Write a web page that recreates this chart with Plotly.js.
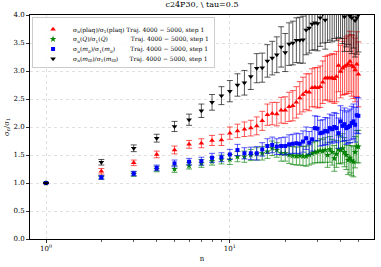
<!DOCTYPE html>
<html>
<head>
<meta charset="utf-8">
<script src="https://cdn.plot.ly/plotly-3.0.1.min.js"></script>
<style>
html,body{margin:0;padding:0;background:#fff;}
#chart{width:381px;height:267px;}
</style>
</head>
<body>
<div id="chart"></div>
<script>
const n = [1,2,3,4,5,6,7,8,9,10,11,12,13,14,15,16,17,18,19,20,21,22,23,24,25,26,27,28,29,30,31,32,33,34,35,36,37,38,39,40,41,42,43,44,45,46,47,48,49,50];

const plaq = [1.00,1.21,1.36,1.51,1.59,1.69,1.71,1.76,1.77,1.89,1.93,1.96,1.98,2.02,2.11,2.22,2.24,2.23,2.30,2.30,2.36,2.38,2.44,2.52,2.58,2.63,2.62,2.70,2.71,2.70,2.72,2.80,2.87,2.88,2.87,2.88,2.86,2.90,3.10,2.99,3.05,3.08,3.10,3.12,3.17,3.10,3.07,3.02,3.12,2.94];
const plaqErr = [0.01,0.05,0.05,0.06,0.07,0.07,0.08,0.09,0.10,0.11,0.12,0.13,0.14,0.16,0.17,0.19,0.20,0.21,0.23,0.24,0.26,0.27,0.28,0.29,0.31,0.32,0.33,0.34,0.35,0.36,0.37,0.38,0.39,0.40,0.42,0.43,0.44,0.45,0.47,0.47,0.48,0.50,0.51,0.52,0.54,0.55,0.56,0.57,0.58,0.58];

const topQ = [1.00,1.10,1.16,1.25,1.25,1.31,1.35,1.39,1.42,1.42,1.47,1.47,1.50,1.52,1.53,1.56,1.62,1.59,1.53,1.53,1.50,1.49,1.48,1.49,1.48,1.48,1.50,1.53,1.55,1.56,1.58,1.57,1.59,1.50,1.60,1.55,1.44,1.52,1.60,1.59,1.62,1.55,1.50,1.41,1.45,1.40,1.38,1.55,1.65,1.65];
const topQErr = [0.01,0.03,0.04,0.05,0.06,0.06,0.07,0.07,0.08,0.09,0.09,0.10,0.10,0.11,0.12,0.12,0.13,0.13,0.14,0.14,0.15,0.16,0.16,0.17,0.17,0.18,0.18,0.19,0.19,0.20,0.21,0.21,0.22,0.22,0.23,0.23,0.23,0.24,0.25,0.25,0.26,0.26,0.26,0.26,0.27,0.27,0.27,0.28,0.29,0.29];

const mpi = [1.00,1.10,1.17,1.27,1.35,1.38,1.39,1.45,1.46,1.51,1.59,1.53,1.53,1.53,1.60,1.66,1.68,1.65,1.66,1.66,1.69,1.70,1.71,1.70,1.74,1.80,1.72,1.78,1.98,1.97,1.89,1.90,1.93,1.92,1.98,1.96,2.00,1.98,1.89,2.10,2.02,2.05,1.98,2.00,2.02,2.07,2.10,2.04,2.21,2.20];
const mpiErr = [0.01,0.03,0.04,0.05,0.06,0.06,0.07,0.08,0.08,0.09,0.10,0.10,0.11,0.12,0.12,0.13,0.14,0.14,0.15,0.16,0.17,0.17,0.18,0.18,0.19,0.20,0.20,0.21,0.22,0.22,0.23,0.23,0.24,0.24,0.25,0.25,0.26,0.26,0.27,0.28,0.28,0.29,0.29,0.29,0.30,0.30,0.31,0.31,0.32,0.32];

const mt0 = [1.00,1.37,1.62,1.80,2.01,2.13,2.29,2.44,2.56,2.64,2.75,2.79,2.90,3.05,3.06,3.18,3.23,3.29,3.43,3.33,3.48,3.50,3.55,3.55,3.56,3.73,3.77,3.84,3.86,3.85,3.95,4.02,3.91,4.05,4.10,4.08,4.15,4.12,4.20,4.18,4.10,3.97,4.05,4.10,3.98,3.95,4.05,3.90,3.95,4.00];
const mt0Err = [0.01,0.05,0.06,0.07,0.09,0.10,0.12,0.14,0.16,0.19,0.20,0.22,0.23,0.26,0.26,0.29,0.30,0.32,0.36,0.34,0.38,0.39,0.40,0.41,0.42,0.44,0.45,0.47,0.48,0.49,0.51,0.52,0.52,0.54,0.55,0.56,0.57,0.58,0.60,0.60,0.61,0.62,0.62,0.63,0.63,0.64,0.64,0.65,0.65,0.66];

const labels = [
  'σ<sub>n</sub>(plaq)/σ<sub>1</sub>(plaq) Traj. 4000 − 5000, step 1',
  'σ<sub>n</sub>(<i>Q</i>)/σ<sub>1</sub>(<i>Q</i>)\u00a0\u00a0\u00a0\u00a0\u00a0\u00a0\u00a0\u00a0\u00a0\u00a0\u00a0\u00a0Traj. 4000 − 5000, step 1',
  'σ<sub>n</sub>(<i>m<sub>π</sub></i>)/σ<sub>1</sub>(<i>m<sub>π</sub></i>)\u00a0\u00a0\u00a0\u00a0\u00a0\u00a0\u00a0\u00a0Traj. 4000 − 5000, step 1',
  'σ<sub>n</sub>(<i>m<sub>t0</sub></i>)/σ<sub>1</sub>(<i>m<sub>t0</sub></i>)\u00a0\u00a0\u00a0\u00a0\u00a0\u00a0Traj. 4000 − 5000, step 1'
];

const xTickVals = [1, 10];
const xTickText = ['10<sup>0</sup>', '10<sup>1</sup>'];
const xMinorVals = [2,3,4,5,6,7,8,9,20,30,40,50];
const yTickVals = [0,0.5,1,1.5,2,2.5,3,3.5,4];

function series(y, err, color, errColor, symbol, size, name) {
  return {
    x: n, y: y, type: 'scatter', mode: 'markers', name: name,
    marker: {color: color, symbol: symbol, size: size, line: {width: 0}},
    error_y: {type: 'data', array: err, visible: true, color: errColor, thickness: 1, width: 3},
    cliponaxis: true
  };
}

const data = [
  series(plaq, plaqErr, '#ff0000', 'rgba(255,0,0,0.65)', 'triangle-up', 5, labels[0]),
  series(topQ, topQErr, '#008000', 'rgba(0,128,0,0.65)', 'star', 5, labels[1]),
  series(mpi, mpiErr, '#0000ff', 'rgba(0,0,255,0.65)', 'square', 4, labels[2]),
  series(mt0, mt0Err, '#000000', 'rgba(0,0,0,0.65)', 'triangle-down', 5, labels[3])
];

const font = 'DejaVu Serif, serif';
const layout = {
  width: 381, height: 267,
  margin: {l: 30, r: 7, t: 15, b: 28},
  paper_bgcolor: '#fff', plot_bgcolor: '#fff',
  font: {family: font, size: 7, color: '#000'},
  title: {text: 'c24P30, \\ tau=0.5', font: {family: font, size: 8, color: '#000'}, xref: 'paper', x: 0.5, xanchor: 'center', yref: 'container', y: 0.995, yanchor: 'top'},
  showlegend: true,
  legend: {x: 0.006, y: 0.992, xanchor: 'left', yanchor: 'top', bgcolor: 'rgba(255,255,255,0.85)', bordercolor: '#cccccc', borderwidth: 1, font: {family: font, size: 6, color: '#000'}, tracegroupgap: 0, itemwidth: 30},
  xaxis: {
    type: 'log', range: [-0.087, 1.784],
    tickmode: 'array', tickvals: xTickVals, ticktext: xTickText,
    ticks: 'outside', ticklen: 3, tickwidth: 0.8, tickcolor: '#000',
    showgrid: true, gridcolor: '#d8d8d8', griddash: 'dot', gridwidth: 0.8,
    showline: true, linecolor: '#000', linewidth: 1, mirror: true,
    zeroline: false,
    minor: {tickmode: 'array', tickvals: xMinorVals, ticks: 'outside', ticklen: 2, tickwidth: 0.6, tickcolor: '#000', showgrid: false},
    title: {text: 'n', font: {family: font, size: 7}, standoff: 3},
    tickfont: {family: font, size: 7}
  },
  yaxis: {
    range: [0, 4],
    tickmode: 'array', tickvals: yTickVals, ticktext: yTickVals.map(v => v.toFixed(1)),
    ticks: 'outside', ticklen: 3, tickwidth: 0.8, tickcolor: '#000',
    showgrid: true, gridcolor: '#d8d8d8', griddash: 'dot', gridwidth: 0.8,
    showline: true, linecolor: '#000', linewidth: 1, mirror: true,
    zeroline: false,
    title: {text: 'σ<sub>n</sub>/σ<sub>1</sub>', font: {family: font, size: 7}, standoff: 3},
    tickfont: {family: font, size: 7}
  }
};

const gd = document.getElementById('chart');
Plotly.newPlot(gd, data, layout, {displayModeBar: false, staticPlot: true}).then(function () {
  // compact the legend rows to the reference spacing
  const traces = gd.querySelectorAll('g.legend g.traces');
  if (traces.length < 2) return;
  const pos = [];
  traces.forEach(function (t) {
    const m = /translate\(\s*([-\d.e]+)[ ,]+([-\d.e]+)\s*\)/.exec(t.getAttribute('transform') || '');
    pos.push(m ? [parseFloat(m[1]), parseFloat(m[2])] : [0, 0]);
  });
  const step = 9.8;
  const shift = -3;
  const y0 = pos[0][1] + shift;
  traces.forEach(function (t, i) {
    t.setAttribute('transform', 'translate(' + pos[i][0] + ',' + (y0 + i * step) + ')');
  });
  const bg = gd.querySelector('g.legend rect.bg');
  if (bg) {
    const lastY = y0 + (traces.length - 1) * step;
    bg.setAttribute('height', lastY + 8.5);
  }
});
</script>
</body>
</html>
